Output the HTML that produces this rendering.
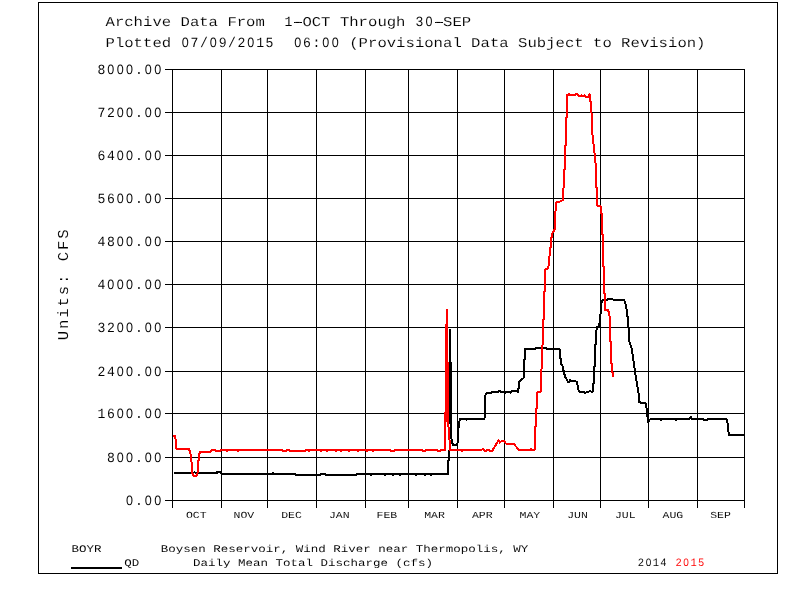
<!DOCTYPE html>
<html><head><meta charset="utf-8"><title>BOYR QD</title>
<style>html,body{margin:0;padding:0;background:#fff}body{width:792px;height:612px;overflow:hidden}svg{display:block;will-change:transform}text{font-family:"Liberation Mono",monospace;fill:#000;text-rendering:geometricPrecision;stroke:#fff;stroke-width:0.12px}.b{font-size:15.625px}.z{font-family:"Liberation Sans",sans-serif}.r{font-size:15.625px;stroke-width:0.1px}.s{font-size:12.5px;stroke-width:0.04px}.m{font-size:11.5px;stroke-width:0.04px}.d{stroke-width:0.04px}</style>
</head><body>
<svg width="792" height="612" viewBox="0 0 792 612">
<g shape-rendering="crispEdges" fill="#000">
<rect x="38" y="2" width="740" height="1"/><rect x="38" y="573" width="740" height="1"/><rect x="38" y="2" width="1" height="572"/><rect x="777" y="2" width="1" height="572"/>
<rect x="172" y="69" width="1" height="439"/>
<rect x="221" y="69" width="1" height="439"/>
<rect x="267" y="69" width="1" height="439"/>
<rect x="316" y="69" width="1" height="439"/>
<rect x="365" y="69" width="1" height="439"/>
<rect x="408" y="69" width="1" height="439"/>
<rect x="457" y="69" width="1" height="439"/>
<rect x="504" y="69" width="1" height="439"/>
<rect x="553" y="69" width="1" height="439"/>
<rect x="600" y="69" width="1" height="439"/>
<rect x="648" y="69" width="1" height="439"/>
<rect x="697" y="69" width="1" height="439"/>
<rect x="744" y="69" width="1" height="439"/>
<rect x="165" y="69" width="580" height="1"/>
<rect x="165" y="112" width="580" height="1"/>
<rect x="165" y="155" width="580" height="1"/>
<rect x="165" y="198" width="580" height="1"/>
<rect x="165" y="241" width="580" height="1"/>
<rect x="165" y="284" width="580" height="1"/>
<rect x="165" y="327" width="580" height="1"/>
<rect x="165" y="371" width="580" height="1"/>
<rect x="165" y="413" width="580" height="1"/>
<rect x="165" y="457" width="580" height="1"/>
<rect x="165" y="500" width="580" height="1"/>
<rect x="71" y="567" width="51" height="2"/>
<rect x="294" y="22" width="8" height="1"/><rect x="435" y="22" width="8" height="1"/>
</g>
<g fill="none" stroke-width="2" stroke-linejoin="round" shape-rendering="crispEdges">
<polyline stroke="#000" points="174,473 193.5,473 194.5,472 195.5,473 216,473 216.5,472 217,473 218,472 221,472 221.5,474 272,474 272.5,473 274,474 295,474 296,475 320,475 321,474 325,474 326,475 356,475 357,474 370,474 371,475 372,474 384,474 385,475 386,474 392,474 393,475 394,474 399,474 400,475 401,474 415,474 416,475 417,474 424,474 425,475 426,474 430,474 431,475 432,474 448,474 448,461 449,460 449,450"/>
<polyline stroke="#000" points="450.5,420 451,435 452,442 453,445 457,445 458,441 458,430 459.3,425 459.5,421 460.5,418.5 466,418.5 466.5,419.5 467.5,418.5 470,418.5 471,419.5 472,418.5 484.5,418.5 485,408 485.5,395 486.5,393 491,393 491.5,392 498.5,392 499,391 500,391 500.5,392 505,392 505.5,393 506.5,392 510,392 510.5,393 511.5,392 512,391 517.5,391 518,392 519.5,381.5 520.5,380.5 523.5,378 524,377 524,360 525,359 525,349 535,349 535.5,348 546,348 546.5,349 559.5,349 560,350 560,358 561,359 561,364 562,365 563,367 563,370 564,371 564,374 565,375 565,377 566,378 567,380 568,382 569.5,381.5 570.3,380 571.3,381 575,381 576,381.5 577,382 577,384.5 578,385.5 578.4,389.5 579.4,392 584.4,392 585.4,393 586.5,392 588,392 590.5,391 591.5,392 592.5,392 593,391 593,384 594,383 594,367 595,366 595,345 596,344 596,335 595.8,334.3 597,326.7 599,326.2 600.2,317.9 601,308 601.7,300.5 605,300 608,299.4 611.6,299.2 615,299.8 620,300 624.2,300.2 626.1,305.3 627.7,317.9 628.6,329.2 629.5,341.9 631.8,348.8 633,357 634.8,370.4 636.5,381 638.5,392.6 639,402.3 645.5,403.2 647,410.9 648,422 649.5,420 650.6,419 660,419 661,420 662,419 675,419 676,420 677,419 689.5,419 691,416.5 692,419 703,419 704,420 707,420 708,419 726.3,419 727.3,421 728,428 729,435 736,435.3 740,435 741,434.5 744,435"/>
<rect x="449" y="329" width="2" height="33" fill="#000" stroke="none"/>
<rect x="449" y="362" width="3" height="62" fill="#000" stroke="none"/>
<polyline stroke="#f00" points="173.3,436.2 175.2,435.8 175.8,442 176.3,448.8 188.8,448.8 190.3,452.3 191.1,457.4 191.8,465.5 192.5,473.6 193.2,475.6 196.4,475.6 197.6,472.6 198.4,461.5 199.2,454.4 200.4,451.8 210,451.8 211.6,450 214.6,450 215.6,451 220.2,451 221.2,450 226,450 227,451 228,450 237,450 238,451 239,450 282,450 283,451 286,451 287,450 289,450 290,451 305,451 306,450 308,450 309,451 310,450 320,450 321,451 322,450 326,450 327,451 328,450 335,450 336,451 337,450 340,450 341,451 342,450 348,450 349,451 350,450 357,450 358,451 359,450 366,450 367,451 368,450 372,450 373,451 374,450 390,450 391,451 394,451 395,450 422,450 423,451 425,451 426,450 437,450 438,451 440,451 441,450 445,450 445,412"/>
<polyline stroke="#f00" points="448,418 449,435 450,444 450.3,450 461,450 462,451 463,450 481.5,450 482.5,449 483.5,449 484.5,451 486.5,451 487.2,450 489.2,450 489.8,451 492,451 492.7,450 494,448 496,444.5 497.5,442 498.7,440.2 499.7,442.7 501,441.5 501.8,441 504.3,441 505.5,443 506.8,444.4 514.4,444.4 516,446.5 518,448.8 519.4,450 530.5,450 531,449 532,450 534.5,450 534.5,446 535,445 535,427 536,426 536,409 537,408 537,393 538,392 540,392.5 541,391 541.3,375 542,355 543,336 543,320 544,319 544,292 545,291 545,269.5 548.3,268.1 549,260 550.4,248.8 551.2,240 552,233.7 554,231 554.8,228.6 555.3,215 556,202.5 559,202 562.9,200.2 563.3,190 564,184 564,170 565,169 565,146 566,145 566,118 567,117 567,95 568,95 569,94 570,95 575,95 576,94 577,94 578,95.5 578.5,96 581,96 581.5,95 582,96 584,96 584.5,95 585.2,96 585.5,97 588.5,97 589.5,94.5 590,97 590,101 591,102 591,112.5 592,113.5 592,125 592.5,135 593.9,147 595.5,163.3 596,170 596,187 597,188 597,205.5 598,206 600.5,206.5 601,208 601,213 602,214 602,234 603,235 603,266 604,267 604,293 605,294 605,310.3 608,309.7 609.3,314 610,320 610,341 611,342 611,363 612,364 612,372 613,373 613,377"/>
<rect x="446" y="309" width="2" height="15" fill="#f00" stroke="none"/>
<rect x="445" y="324" width="3" height="38" fill="#f00" stroke="none"/>
<rect x="445" y="362" width="4" height="60" fill="#f00" stroke="none"/>
</g>
<text class="b" xml:space="preserve" transform="translate(0,26.3) scale(1,0.867)" x="105.5 114.88 124.25 133.62 143 152.38 161.75 171.12 180.5 189.88 199.25 208.62 218 227.38 236.75 246.12 255.5">Archive Data From</text>
<text class="b d" style="font-size:13.12px" xml:space="preserve" transform="translate(0,26.3) scale(1,1.07)" x="284.38">1</text>
<text class="b" xml:space="preserve" transform="translate(0,26.3) scale(1,0.867)" x="293 302.38 311.75 321.12 330.5 339.88 349.25 358.62 368 377.38 386.75 396.12">-OCT Through</text>
<text class="b d" style="font-size:13.12px" xml:space="preserve" transform="translate(0,26.3) scale(1,1.07)" x="415.62 425.44">3<tspan class="z" style="font-size:12.59px">0</tspan></text>
<text class="b" xml:space="preserve" transform="translate(0,26.3) scale(1,0.867)" x="433.62 443 452.38 461.75">-SEP</text>
<text class="b" xml:space="preserve" transform="translate(0,47.2) scale(1,0.867)" x="105.5 114.88 124.25 133.62 143 152.38 161.75">Plotted</text>
<text class="b d" style="font-size:13.12px" xml:space="preserve" transform="translate(0,47.2) scale(1,1.07)" x="181.69 190.62 200 209.81 218.75 228.12 237.5 247.31 256.25 265.62"><tspan class="z" style="font-size:12.59px">0</tspan>7/<tspan class="z" style="font-size:12.59px">0</tspan>9/2<tspan class="z" style="font-size:12.59px">0</tspan>15</text>
<text class="b d" style="font-size:13.12px" xml:space="preserve" transform="translate(0,47.2) scale(1,1.07)" x="294.19 303.12 312.5 322.31 331.69"><tspan class="z" style="font-size:12.59px">0</tspan>6:<tspan class="z" style="font-size:12.59px">00</tspan></text>
<text class="b" xml:space="preserve" transform="translate(0,47.2) scale(1,0.867)" x="349.25 358.62 368 377.38 386.75 396.12 405.5 414.88 424.25 433.62 443 452.38 461.75 471.12 480.5 489.88 499.25 508.62 518 527.38 536.75 546.12 555.5 564.88 574.25 583.62 593 602.38 611.75 621.12 630.5 639.88 649.25 658.62 668 677.38 686.75 696.12">(Provisional Data Subject to Revision)</text>
<text class="b d" style="font-size:13.12px" xml:space="preserve" transform="translate(0,74.4) scale(1,1.07)" x="97.53 107.34 116.71 126.09 135.03 144.84 154.21">8<tspan class="z" style="font-size:12.59px">000</tspan>.<tspan class="z" style="font-size:12.59px">00</tspan></text>
<text class="b d" style="font-size:13.12px" xml:space="preserve" transform="translate(0,117.4) scale(1,1.07)" x="97.53 106.9 116.71 126.09 135.03 144.84 154.21">72<tspan class="z" style="font-size:12.59px">00</tspan>.<tspan class="z" style="font-size:12.59px">00</tspan></text>
<text class="b d" style="font-size:13.12px" xml:space="preserve" transform="translate(0,160.4) scale(1,1.07)" x="97.53 106.9 116.71 126.09 135.03 144.84 154.21">64<tspan class="z" style="font-size:12.59px">00</tspan>.<tspan class="z" style="font-size:12.59px">00</tspan></text>
<text class="b d" style="font-size:13.12px" xml:space="preserve" transform="translate(0,203.4) scale(1,1.07)" x="97.53 106.9 116.71 126.09 135.03 144.84 154.21">56<tspan class="z" style="font-size:12.59px">00</tspan>.<tspan class="z" style="font-size:12.59px">00</tspan></text>
<text class="b d" style="font-size:13.12px" xml:space="preserve" transform="translate(0,246.4) scale(1,1.07)" x="97.53 106.9 116.71 126.09 135.03 144.84 154.21">48<tspan class="z" style="font-size:12.59px">00</tspan>.<tspan class="z" style="font-size:12.59px">00</tspan></text>
<text class="b d" style="font-size:13.12px" xml:space="preserve" transform="translate(0,289.4) scale(1,1.07)" x="97.53 107.34 116.71 126.09 135.03 144.84 154.21">4<tspan class="z" style="font-size:12.59px">000</tspan>.<tspan class="z" style="font-size:12.59px">00</tspan></text>
<text class="b d" style="font-size:13.12px" xml:space="preserve" transform="translate(0,332.4) scale(1,1.07)" x="97.53 106.9 116.71 126.09 135.03 144.84 154.21">32<tspan class="z" style="font-size:12.59px">00</tspan>.<tspan class="z" style="font-size:12.59px">00</tspan></text>
<text class="b d" style="font-size:13.12px" xml:space="preserve" transform="translate(0,376.4) scale(1,1.07)" x="97.53 106.9 116.71 126.09 135.03 144.84 154.21">24<tspan class="z" style="font-size:12.59px">00</tspan>.<tspan class="z" style="font-size:12.59px">00</tspan></text>
<text class="b d" style="font-size:13.12px" xml:space="preserve" transform="translate(0,418.4) scale(1,1.07)" x="97.53 106.9 116.71 126.09 135.03 144.84 154.21">16<tspan class="z" style="font-size:12.59px">00</tspan>.<tspan class="z" style="font-size:12.59px">00</tspan></text>
<text class="b d" style="font-size:13.12px" xml:space="preserve" transform="translate(0,462.4) scale(1,1.07)" x="106.9 116.71 126.09 135.03 144.84 154.21">8<tspan class="z" style="font-size:12.59px">00</tspan>.<tspan class="z" style="font-size:12.59px">00</tspan></text>
<text class="b d" style="font-size:13.12px" xml:space="preserve" transform="translate(0,505.4) scale(1,1.07)" x="126.09 135.03 144.84 154.21"><tspan class="z" style="font-size:12.59px">0</tspan>.<tspan class="z" style="font-size:12.59px">00</tspan></text>
<text class="m" xml:space="preserve" transform="translate(0,518.2) scale(1,0.81)" x="185.88 192.78 199.68">OCT</text>
<text class="m" xml:space="preserve" transform="translate(0,518.2) scale(1,0.81)" x="233.55 240.45 247.35">NOV</text>
<text class="m" xml:space="preserve" transform="translate(0,518.2) scale(1,0.81)" x="281.22 288.12 295.02">DEC</text>
<text class="m" xml:space="preserve" transform="translate(0,518.2) scale(1,0.81)" x="328.88 335.78 342.68">JAN</text>
<text class="m" xml:space="preserve" transform="translate(0,518.2) scale(1,0.81)" x="376.55 383.45 390.35">FEB</text>
<text class="m" xml:space="preserve" transform="translate(0,518.2) scale(1,0.81)" x="424.22 431.12 438.02">MAR</text>
<text class="m" xml:space="preserve" transform="translate(0,518.2) scale(1,0.81)" x="471.89 478.79 485.69">APR</text>
<text class="m" xml:space="preserve" transform="translate(0,518.2) scale(1,0.81)" x="519.55 526.45 533.35">MAY</text>
<text class="m" xml:space="preserve" transform="translate(0,518.2) scale(1,0.81)" x="567.22 574.12 581.02">JUN</text>
<text class="m" xml:space="preserve" transform="translate(0,518.2) scale(1,0.81)" x="614.89 621.79 628.69">JUL</text>
<text class="m" xml:space="preserve" transform="translate(0,518.2) scale(1,0.81)" x="662.55 669.45 676.35">AUG</text>
<text class="m" xml:space="preserve" transform="translate(0,518.2) scale(1,0.81)" x="710.22 717.12 724.02">SEP</text>
<text class="s" xml:space="preserve" transform="translate(0,552) scale(1,0.81)" x="71.5 79 86.5 94">BOYR</text>
<text class="s" xml:space="preserve" transform="translate(0,566) scale(1,0.81)" x="124.3 131.8">QD</text>
<text class="s" xml:space="preserve" transform="translate(0,552) scale(1,0.81)" x="160.7 168.2 175.7 183.2 190.7 198.2 205.7 213.2 220.7 228.2 235.7 243.2 250.7 258.2 265.7 273.2 280.7 288.2 295.7 303.2 310.7 318.2 325.7 333.2 340.7 348.2 355.7 363.2 370.7 378.2 385.7 393.2 400.7 408.2 415.7 423.2 430.7 438.2 445.7 453.2 460.7 468.2 475.7 483.2 490.7 498.2 505.7 513.2 520.7">Boysen Reservoir, Wind River near Thermopolis, WY</text>
<text class="s" xml:space="preserve" transform="translate(0,566) scale(1,0.81)" x="193 200.5 208 215.5 223 230.5 238 245.5 253 260.5 268 275.5 283 290.5 298 305.5 313 320.5 328 335.5 343 350.5 358 365.5 373 380.5 388 395.5 403 410.5 418 425.5">Daily Mean Total Discharge (cfs)</text>
<text class="s d" style="font-size:10.5px" xml:space="preserve" transform="translate(0,566) scale(1,1.07)" x="637.8 645.65 652.8 660.3">2<tspan class="z" style="font-size:10.07px">0</tspan>14</text>
<text class="s d" style="fill:#f00;font-size:10.5px" xml:space="preserve" transform="translate(0,566) scale(1,1.07)" x="675.4 683.25 690.4 697.9">2<tspan class="z" style="font-size:10.07px">0</tspan>15</text>
<text class="r" xml:space="preserve" letter-spacing="1.9" transform="translate(68.3,340.2) rotate(-90) scale(1,0.97)">Units: CFS</text>
</svg></body></html>
